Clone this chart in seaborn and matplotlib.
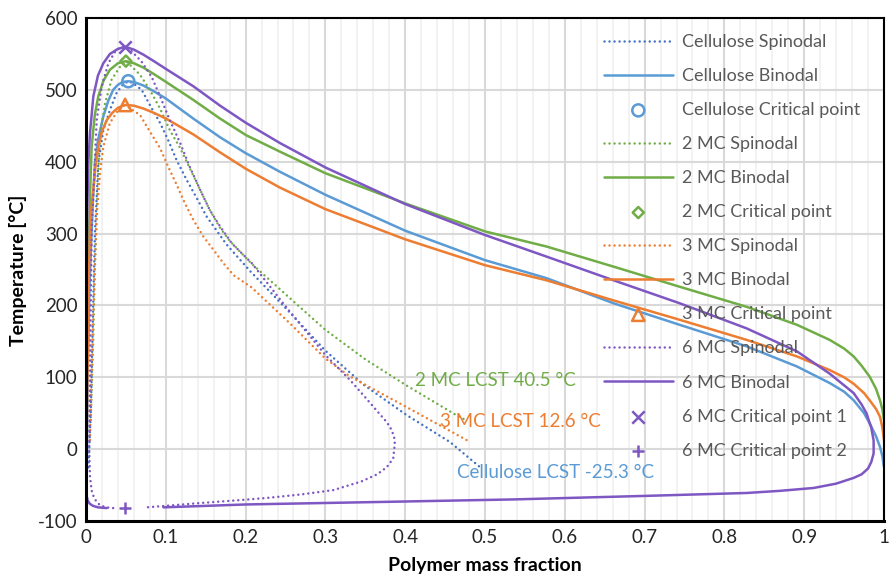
import numpy as np
import pandas as pd
import matplotlib
matplotlib.use("Agg")
import matplotlib.pyplot as plt
from matplotlib.ticker import MultipleLocator
import seaborn as sns

# ---------------- data ----------------
cell_bin_x = [0.001, 0.0015, 0.002, 0.003, 0.0045, 0.0071, 0.009, 0.0113, 0.015, 0.0217, 0.028, 0.034, 0.04,
              0.046, 0.053, 0.06, 0.072, 0.085, 0.1, 0.1345, 0.168, 0.2, 0.243, 0.3, 0.4, 0.5, 0.577, 0.661,
              0.744, 0.828, 0.891, 0.932, 0.95, 0.962, 0.975, 0.982, 0.99, 0.995, 0.998, 1.0]
cell_bin_t = [-25.3, 50, 100, 150, 230, 305, 355, 398, 430, 463, 485, 500, 507,
              511, 512, 511, 506, 498, 488, 460, 434, 412, 386, 354, 304, 263, 238, 203,
              173, 143, 115, 92, 80, 68, 50, 36, 18, 3, -10, -25.3]
cell_sp_x = [0.003, 0.006, 0.007, 0.009, 0.0113, 0.0134, 0.0154, 0.0217, 0.030, 0.038, 0.045, 0.053, 0.0593,
             0.0698, 0.080, 0.0928, 0.103, 0.1136, 0.126, 0.139, 0.151, 0.176, 0.2055, 0.2556, 0.3, 0.3475,
             0.401, 0.456, 0.494]
cell_sp_t = [-25.3, 50, 100, 200, 305, 351, 398, 444, 472, 495, 506, 512, 509,
             500, 479, 454, 430, 402, 375, 349, 324, 285, 248, 190, 137, 90,
             48, 10, -25.3]
cell_cp = (0.053, 512)

mc2_bin_x = [0.0005, 0.001, 0.002, 0.003, 0.004, 0.0055, 0.0071, 0.011, 0.0154, 0.022, 0.030, 0.04, 0.05,
             0.06, 0.0719, 0.085, 0.1003, 0.1345, 0.168, 0.2005, 0.243, 0.3, 0.4, 0.5, 0.577, 0.661, 0.744,
             0.828, 0.891, 0.932, 0.95, 0.962, 0.972, 0.982, 0.99, 0.995, 0.998, 1.0]
mc2_bin_t = [40.5, 100, 180, 250, 305, 370, 421, 465, 491, 513, 528, 537, 540,
             537, 531, 522, 511, 486, 460, 437, 414, 384, 342, 303, 282, 254, 226,
             198, 173, 152, 140, 129, 116, 101, 84, 68, 55, 40.5]
mc2_sp_x = [0.006, 0.007, 0.009, 0.011, 0.0134, 0.0154, 0.0175, 0.0238, 0.032, 0.0426, 0.05, 0.055, 0.0677,
            0.080, 0.0928, 0.105, 0.118, 0.130, 0.143, 0.155, 0.168, 0.180, 0.2076, 0.2556, 0.3, 0.35,
            0.401, 0.4645, 0.476]
mc2_sp_t = [40.5, 80, 150, 250, 328, 389, 435, 481, 514, 532, 540, 535, 521,
            500, 474, 444, 419, 391, 361, 333, 308, 290, 258, 210, 166, 125,
            89, 47, 40.5]
mc2_cp = (0.05, 540)

mc3_bin_x = [0.001, 0.0015, 0.0025, 0.0035, 0.005, 0.007, 0.0092, 0.012, 0.0154, 0.02, 0.026, 0.033, 0.04,
             0.049, 0.06, 0.0719, 0.085, 0.1003, 0.1345, 0.168, 0.2005, 0.243, 0.3, 0.4, 0.5, 0.577, 0.661,
             0.744, 0.828, 0.891, 0.932, 0.95, 0.962, 0.975, 0.982, 0.99, 0.995, 0.998, 1.0]
mc3_bin_t = [12.6, 80, 150, 230, 305, 338, 361, 395, 421, 442, 458, 468, 475,
             479, 478, 474, 468, 460, 438, 413, 390, 364, 334, 292, 256, 235, 207,
             180, 152, 129, 110, 100, 91, 78, 68, 56, 45, 30, 12.6]
mc3_sp_x = [0.005, 0.006, 0.008, 0.011, 0.0134, 0.0175, 0.0217, 0.030, 0.0405, 0.049, 0.0677, 0.080, 0.0928,
            0.103, 0.1136, 0.124, 0.1345, 0.147, 0.160, 0.172, 0.185, 0.2076, 0.2556, 0.3, 0.331, 0.401,
            0.477]
mc3_sp_t = [12.6, 60, 150, 250, 324, 384, 421, 454, 472, 479, 465, 442, 419,
            393, 368, 342, 319, 296, 277, 259, 242, 225, 175, 126, 101, 59,
            12.6]
mc3_cp = (0.049, 479)

mc6_bin_x = [0.026, 0.015, 0.009, 0.006, 0.004, 0.002, 0.001, 0.0007, 0.0005, 0.0005, 0.0008, 0.0015, 0.0029,
             0.005, 0.0092, 0.015, 0.0217, 0.03, 0.04, 0.049, 0.06, 0.0719, 0.085, 0.1003, 0.1345, 0.168,
             0.2005, 0.243, 0.3, 0.4, 0.5, 0.577, 0.661, 0.744, 0.828, 0.891, 0.932, 0.962, 0.972, 0.978,
             0.984, 0.987, 0.987, 0.984, 0.98, 0.972, 0.962, 0.94, 0.912, 0.87, 0.828, 0.703, 0.535, 0.393,
             0.2, 0.097]
mc6_bin_t = [-82, -81, -79, -77, -75, -71, -66, -55, 0, 150, 250, 330, 398,
             440, 491, 520, 537, 550, 557, 560, 556, 549, 540, 529, 505, 478,
             454, 426, 392, 341, 298, 268, 235, 203, 168, 136, 105, 78, 62, 50,
             30, 12, -6, -18, -27, -35, -40, -48, -54, -58, -61, -65, -70, -73,
             -77, -81]
mc6_sp_x = [0.034, 0.025, 0.0175, 0.013, 0.011, 0.008, 0.007, 0.005, 0.004, 0.005, 0.006, 0.0071, 0.0092,
            0.0113, 0.0134, 0.0197, 0.028, 0.038, 0.049, 0.058, 0.0698, 0.0823, 0.0928, 0.105, 0.118, 0.130,
            0.143, 0.155, 0.168, 0.183, 0.2076, 0.247, 0.3, 0.331, 0.35, 0.364, 0.375, 0.381, 0.386, 0.387,
            0.385, 0.377, 0.365, 0.345, 0.31, 0.27, 0.226, 0.18, 0.143, 0.11, 0.076]
mc6_sp_t = [-82, -81, -78, -73, -69, -62, -57, -38, 0, 100, 200, 305, 351,
            407, 458, 505, 537, 556, 560, 553, 539, 518, 491, 458, 426, 393,
            361, 333, 310, 286, 259, 203, 131, 96, 72, 54, 40, 31, 18, 8,
            -13, -25, -35, -45, -57, -63, -68, -72, -75, -78, -81]
mc6_cp1 = (0.049, 560)
mc6_cp2 = (0.049, -82)

lcst_labels = ["2 MC LCST 40.5 °C", "3 MC LCST 12.6 °C", "Cellulose LCST -25.3 °C"]
lcst_pos = [(0.412, 95), (0.4436, 39), (0.465, -33)]

x_ticks = [0, 0.1, 0.2, 0.3, 0.4, 0.5, 0.6, 0.7, 0.8, 0.9, 1]
x_tick_labels = ["0", "0.1", "0.2", "0.3", "0.4", "0.5", "0.6", "0.7", "0.8", "0.9", "1"]
y_ticks = [-100, 0, 100, 200, 300, 400, 500, 600]
y_tick_labels = ["-100", "0", "100", "200", "300", "400", "500", "600"]

# ---------------- style ----------------
sns.set_theme(style="white")
FONT = ["Lato", "DejaVu Sans"]
plt.rcParams["font.family"] = FONT
plt.rcParams["axes.unicode_minus"] = False

BLUE = "#5B9BD5"
BLUE_D = "#4472C4"
GREEN = "#70AD47"
ORANGE = "#ED7D31"
PURPLE = "#7E57C2"

W, H = 890, 577
fig = plt.figure(figsize=(W / 100, H / 100), dpi=100)
ax = fig.add_axes([86 / W, 1 - 521 / H, (884 - 86) / W, (521 - 18) / H])

DOT = (0, (0.01, 2.0))
LW = 1.8


def line(xs, ts, color, ls, label=None):
    df = pd.DataFrame({"x": xs, "t": ts})
    sns.lineplot(data=df, x="x", y="t", sort=False, estimator=None, color=color,
                 linestyle=ls, linewidth=LW, dash_capstyle="round",
                 solid_joinstyle="round", label=label, ax=ax, legend=False)


def point(p, color, marker, size, label):
    df = pd.DataFrame({"x": [p[0]], "t": [p[1]]})
    if marker in ("x", "+"):
        sns.scatterplot(data=df, x="x", y="t", marker=marker, s=size, color=color,
                        linewidth=1.8, label=label, ax=ax, legend=False, zorder=5)
    else:
        sns.scatterplot(data=df, x="x", y="t", marker=marker, s=size, facecolors="none",
                        edgecolors=color, color=color, linewidth=1.8, label=label, ax=ax,
                        legend=False, zorder=5)


line(cell_sp_x, cell_sp_t, BLUE_D, DOT, "Cellulose Spinodal")
line(cell_bin_x, cell_bin_t, BLUE, "-", "Cellulose Binodal")
point(cell_cp, BLUE, "o", 75, "Cellulose Critical point")
line(mc2_sp_x, mc2_sp_t, GREEN, DOT, "2 MC Spinodal")
line(mc2_bin_x, mc2_bin_t, GREEN, "-", "2 MC Binodal")
point(mc2_cp, GREEN, "D", 32, "2 MC Critical point")
line(mc3_sp_x, mc3_sp_t, ORANGE, DOT, "3 MC Spinodal")
line(mc3_bin_x, mc3_bin_t, ORANGE, "-", "3 MC Binodal")
point(mc3_cp, ORANGE, "^", 80, "3 MC Critical point")
line(mc6_sp_x, mc6_sp_t, PURPLE, DOT, "6 MC Spinodal")
line(mc6_bin_x, mc6_bin_t, PURPLE, "-", "6 MC Binodal")
point(mc6_cp1, PURPLE, "x", 80, "6 MC Critical point 1")
point(mc6_cp2, PURPLE, "+", 75, "6 MC Critical point 2")

# LCST annotations
for txt, pos, c in zip(lcst_labels, lcst_pos, [GREEN, ORANGE, BLUE]):
    ax.text(pos[0], pos[1], txt, color=c, fontsize=13.5, ha="left", va="center", zorder=6)

# axes
ax.set_xlim(0, 1)
ax.set_ylim(-100, 600)
ax.set_xticks(x_ticks)
ax.set_xticklabels(x_tick_labels)
ax.set_yticks(y_ticks)
ax.set_yticklabels(y_tick_labels)
ax.xaxis.set_minor_locator(MultipleLocator(0.02))
ax.grid(which="major", axis="both", color="#D9D9D9", linewidth=1.5, zorder=0)
ax.grid(which="minor", axis="x", color="#F0F0F0", linewidth=1.2, zorder=0)
ax.set_axisbelow(True)
ax.tick_params(axis="both", which="both", length=0, labelsize=13.5, colors="#262626", pad=6)

for s in ["left", "bottom"]:
    ax.spines[s].set_color("black")
    ax.spines[s].set_linewidth(2.2)
for s in ["top", "right"]:
    ax.spines[s].set_color("black")
    ax.spines[s].set_linewidth(1.5)
    ax.spines[s].set_visible(True)

ax.set_xlabel("")
ax.set_ylabel("")
fig.text(485 / W, 1 - 566 / H, "Polymer mass fraction", fontsize=14, fontweight="bold",
         ha="center", va="center", color="black")
fig.text(18 / W, 1 - 270 / H, "Temperature [°C]", fontsize=14, fontweight="bold",
         rotation=90, ha="center", va="center", color="black")

handles, labels = ax.get_legend_handles_labels()
leg = ax.legend(handles, labels, loc="upper left", bbox_to_anchor=(604 / W, 1 - 34 / H),
                bbox_transform=fig.transFigure, frameon=False, fontsize=13,
                handlelength=3.8, handletextpad=0.5, labelspacing=1.0, borderpad=0,
                borderaxespad=0, labelcolor="#595959")

fig.savefig("out.png", dpi=100)
